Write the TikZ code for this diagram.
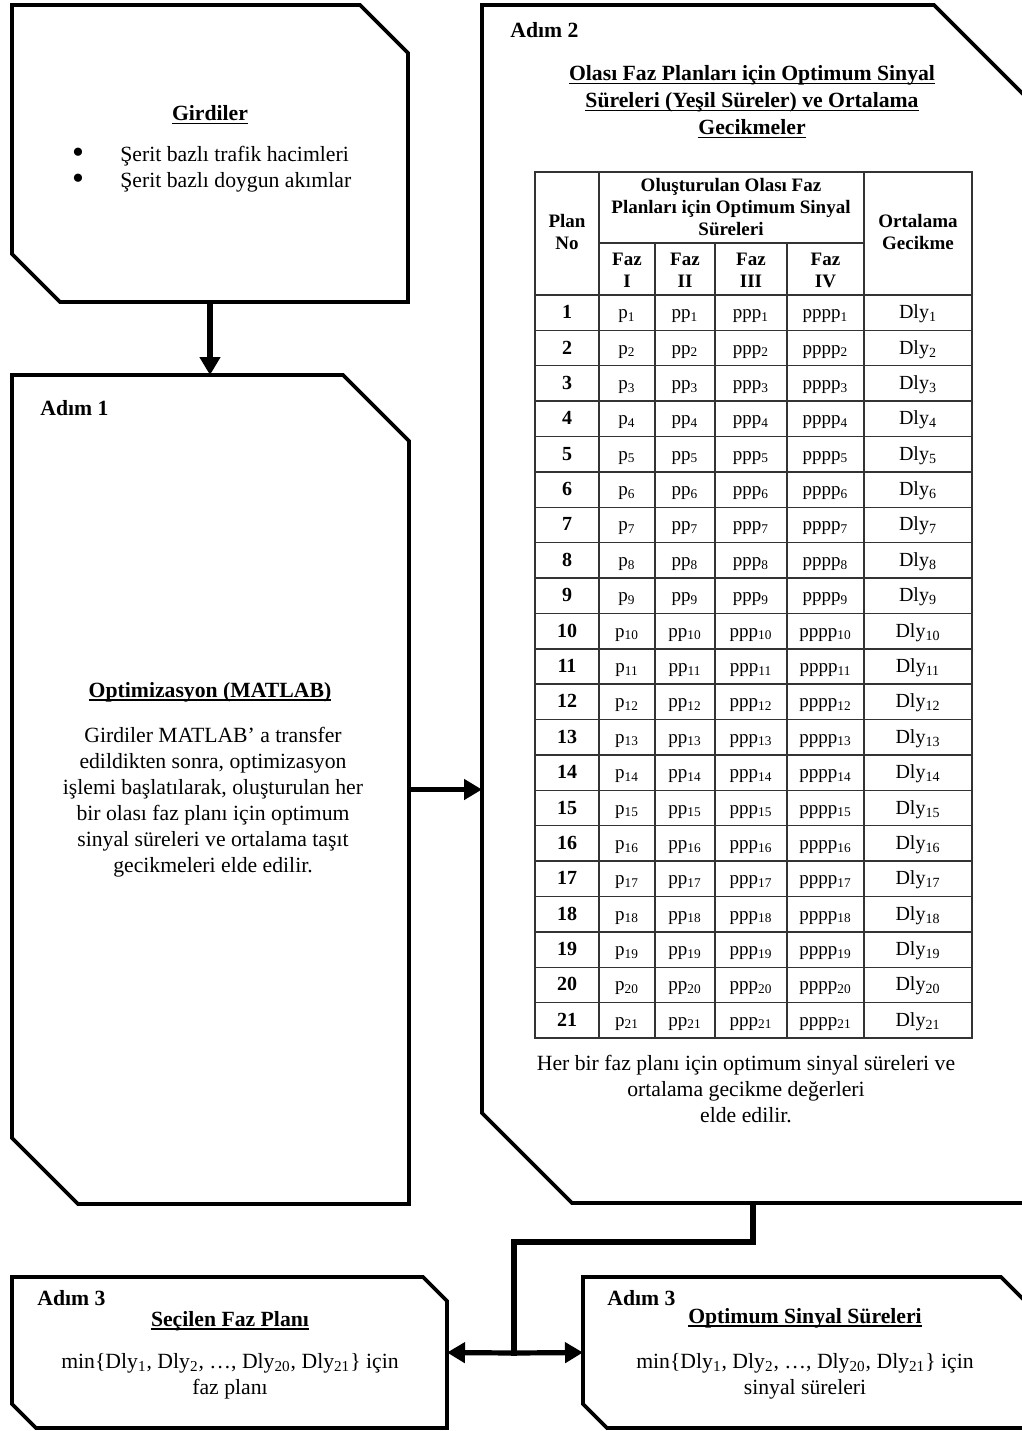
\documentclass[tikz,border=0pt]{standalone}
\usepackage{graphicx}
\usepackage{fontspec}
\setmainfont{Liberation Serif}
\usetikzlibrary{arrows.meta,calc}
\newcommand\fmain{\fontsize{10.85pt}{13pt}\selectfont}
\newcommand\ftitle{\fontsize{10.85pt}{13.5pt}\selectfont\bfseries}
\newcommand\ftab{\fontsize{9.5pt}{11pt}\selectfont}
\newcommand\fdly{\fontsize{10pt}{11pt}\selectfont}
\newcommand\fbul{\fontsize{11pt}{13pt}\selectfont}
\newcommand\bul{\scalebox{1.55}{•}}
\newcommand\uln[1]{\setbox0\hbox{#1}\rlap{\rule[-1.7pt]{\wd0}{0.7pt}}\box0}
\newcommand\chamfbox[2]{\draw[boxline] (#1.north west) -- ([xshift=-#2]#1.north east) -- ([yshift=-#2]#1.north east) -- (#1.south east) -- ([xshift=#2]#1.south west) -- ([yshift=#2]#1.south west) -- cycle;}
\begin{document}
\begin{tikzpicture}[x=0.5pt,y=-0.5pt,
  boxline/.style={line width=1.8pt, line join=miter},
  area/.style={draw=none, inner sep=0pt, outer sep=0pt},
  conn/.style={line width=2.6pt},
  arr/.style={conn, -{Triangle[length=9pt,width=10pt]}},
  tabline/.style={line width=0.7pt, draw=black!80},
  txt/.style={inner sep=0pt, font=\fmain},
  btxt/.style={inner sep=0pt, font=\fmain\bfseries},
  htxt/.style={inner sep=0pt, font=\ftab\bfseries, align=center},
  ctxt/.style={inner sep=0pt, font=\ftab, anchor=base},
]
\useasboundingbox (0,0) rectangle (1022,1431);
\fill[white] (0,0) rectangle (1022,1431);
\clip (0,0) rectangle (1022,1431);

% box areas
\node[area, minimum width=198pt, minimum height=148.5pt] (girdi) at (210,153.5) {};
\node[area, minimum width=198.5pt, minimum height=414.5pt] (adim1) at (210.5,789.5) {};
\node[area, minimum width=271pt, minimum height=599pt] (adim2) at (753,604) {};
\node[area, minimum width=217.5pt, minimum height=75.5pt] (sec) at (229.5,1352.5) {};
\node[area, minimum width=221pt, minimum height=75.5pt] (opt) at (804,1352.5) {};

\chamfbox{girdi}{24pt}
\chamfbox{adim1}{33pt}
\chamfbox{adim2}{45pt}
\chamfbox{sec}{12pt}
\chamfbox{opt}{12pt}

% connectors
\draw[arr] (girdi.south) -- (girdi.south |- adim1.north);
\draw[arr] (adim1.east) -- (adim1.east -| adim2.west);
\coordinate (j) at (514,1353);
\draw[conn, line join=miter] (adim2.south) -- ++(0,39) -| ([yshift=-1.3pt]j);
\draw[arr] (j) -- (sec.east);
\draw[arr] (j) -- (opt.west);

% Girdiler
\node[btxt] (gt) at (210,115) {\uln{Girdiler}};
\node[inner sep=0pt, font=\fbul, align=center] (gb) at (78,169) {\bul\\\bul};
\node[txt, anchor=west] (gl1) at (120,156) {Şerit bazlı trafik hacimleri};
\node[txt, anchor=west] (gl2) at (120,182) {Şerit bazlı doygun akımlar};

% Adim 1
\node[btxt, anchor=west] (a1l) at (40,408) {Adım 1};
\node[btxt] (a1t) at (210,692) {\uln{Optimizasyon (MATLAB)}};
\node[txt, align=center] (a1b) at (213,802) {Girdiler MATLAB’ a transfer\\edildikten sonra, optimizasyon\\işlemi başlatılarak, oluşturulan her\\bir olası faz planı için optimum\\sinyal süreleri ve ortalama taşıt\\gecikmeleri elde edilir.};

% Adim 2
\node[btxt, anchor=west] (a2l) at (510,30) {Adım 2};
\node[inner sep=0pt, font=\ftitle, align=center] (a2t) at (752,102) {\uln{Olası Faz Planları için Optimum Sinyal}\\\uln{Süreleri (Yeşil Süreler) ve Ortalama}\\\uln{Gecikmeler}};

% table grid
\draw[tabline] (535,172) rectangle (972,1038);
\draw[tabline] (599,172) -- (599,1038);
\draw[tabline] (864,172) -- (864,1038);
\draw[tabline] (599,243) -- (864,243);
\foreach \xx in {655,715,787} {\draw[tabline] (\xx,243) -- (\xx,1038);}
\foreach \k in {0,...,20} {\pgfmathsetmacro\yy{295+\k*35.38}\draw[tabline] (535,\yy) -- (972,\yy);}

% table header
\node[htxt] (hplan) at (567,232) {Plan\\No};
\node[htxt] (hopt) at (731,207) {Oluşturulan Olası Faz\\Planları için Optimum Sinyal\\Süreleri};
\node[htxt] (hort) at (918,232) {Ortalama\\Gecikme};
\node[htxt] (hf1) at (627,270) {Faz\\I};
\node[htxt] (hf2) at (685,270) {Faz\\II};
\node[htxt] (hf3) at (751,270) {Faz\\III};
\node[htxt] (hf4) at (825.5,270) {Faz\\IV};

% table rows
\foreach \i in {1,...,21} {
  \pgfmathsetmacro\yy{295+(\i-0.5)*35.38+6}
  \node[ctxt, font=\fdly\bfseries] (rn\i) at (567,\yy) {\i};
  \node[ctxt] (ra\i) at (627,\yy) {p\textsubscript{\i}};
  \node[ctxt] (rb\i) at (685,\yy) {pp\textsubscript{\i}};
  \node[ctxt] (rc\i) at (751,\yy) {ppp\textsubscript{\i}};
  \node[ctxt] (rd\i) at (825.5,\yy) {pppp\textsubscript{\i}};
  \node[ctxt, font=\fdly] (re\i) at (918,\yy) {Dly\textsubscript{\i}};
}

\node[txt, align=center] (a2b) at (746,1089) {Her bir faz planı için optimum sinyal süreleri ve\\ortalama gecikme değerleri\\elde edilir.};

% Adim 3 left
\node[btxt, anchor=west] (s3l) at (37,1298) {Adım 3};
\node[btxt] (s3t) at (230,1321) {\uln{Seçilen Faz Planı}};
\node[txt, align=center] (s3b) at (230,1376) {min\{Dly\textsubscript{1}, Dly\textsubscript{2}, …, Dly\textsubscript{20}, Dly\textsubscript{21}\} için\\faz planı};

% Adim 3 right
\node[btxt, anchor=west] (o3l) at (607,1298) {Adım 3};
\node[btxt] (o3t) at (805,1318) {\uln{Optimum Sinyal Süreleri}};
\node[txt, align=center] (o3b) at (805,1376) {min\{Dly\textsubscript{1}, Dly\textsubscript{2}, …, Dly\textsubscript{20}, Dly\textsubscript{21}\} için\\sinyal süreleri};
\end{tikzpicture}
\end{document}
